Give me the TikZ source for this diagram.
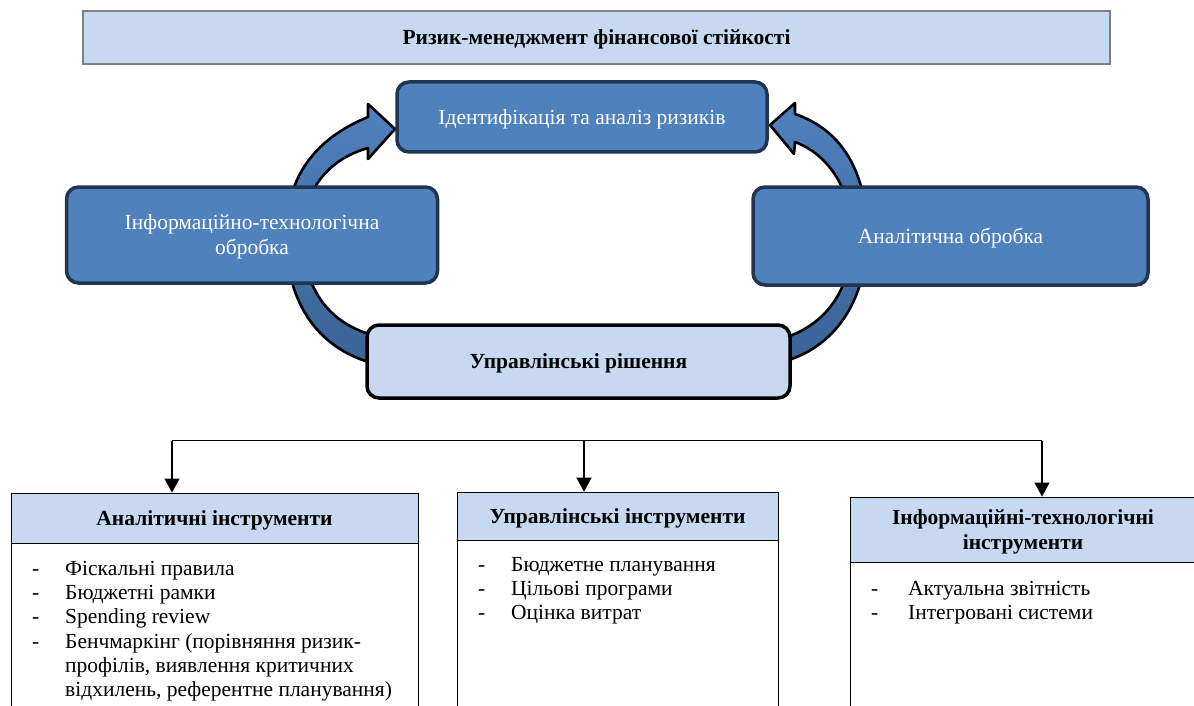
\documentclass[tikz,border=0pt]{standalone}
\usepackage{fontspec}
\setmainfont{Liberation Serif}
\usetikzlibrary{arrows.meta}

\definecolor{paleblue}{HTML}{C6D9F1}
\definecolor{midblue}{HTML}{4F81BD}
\definecolor{deepblue}{HTML}{3A6395}
\definecolor{navyline}{HTML}{1F3552}

\newcommand{\dashitem}{\makebox[33pt][l]{-}}

\begin{document}
\begin{tikzpicture}[x=1pt, y=-1pt,
         banner/.style={rectangle, draw=gray, line width=1.6pt, fill=paleblue, text depth=0pt,
            font=\fontsize{21.5}{25}\selectfont\bfseries},
         stage/.style={rectangle, rounded corners=12pt, draw=navyline, line width=3.5pt, text depth=0pt,
            fill=midblue, text=white, align=center, font=\fontsize{21.5}{25}\selectfont},
         decision/.style={rectangle, rounded corners=12pt, draw=black, line width=3.5pt, text depth=0pt,
            fill=paleblue, font=\fontsize{21.5}{25}\selectfont\bfseries},
         loop/.style={draw=black, line width=2.6pt, line join=round,
            top color=midblue, bottom color=deepblue},
         header/.style={rectangle, draw=black, line width=0.8pt, fill=paleblue, text depth=0pt,
            inner sep=0pt, align=center, font=\fontsize{21.5}{25}\selectfont\bfseries},
         body/.style={rectangle, draw=black, line width=0.8pt, fill=white, inner sep=0pt},
         items/.style={anchor=west, inner sep=0pt, align=left,
            font=\fontsize{21.5}{24.2}\selectfont},
         branch/.style={line width=1.2pt, -{Triangle[width=15pt,length=14pt]}}
      ]
         \useasboundingbox (0,0) rectangle (1194,706);
         \clip (0,0) rectangle (1194,706);

         % Curved arrows (behind the boxes)
         \path[loop] (380,365) .. controls (320,352) and (286,305) .. (286,235)
            .. controls (286,180) and (312,140) .. (368,117) -- (368,104) -- (395,129)
            -- (368,159) -- (368,148) .. controls (326,160) and (303,192) .. (303,235)
            .. controls (303,290) and (330,326) .. (380,337) -- cycle;
         \path[loop] (778,363) .. controls (835,350) and (867,300) .. (867,235)
            .. controls (867,172) and (842,130) .. (795,114) -- (795,103) -- (770,125)
            -- (794,154) -- (795,142) .. controls (830,155) and (852,192) .. (852,235)
            .. controls (852,288) and (828,326) .. (778,340) -- cycle;

         % Top nodes
         \node[banner, minimum width=1027, minimum height=53] (risk) at (596.5,37.5)
            {Ризик-менеджмент фінансової стійкості};
         \node[stage, minimum width=370, minimum height=70] (ident) at (582,117)
            {Ідентифікація та аналіз ризиків};
         \node[stage, minimum width=371, minimum height=96] (infoproc) at (252,235)
            {Інформаційно-технологічна\\обробка};
         \node[stage, minimum width=395, minimum height=98] (anproc) at (950.5,236)
            {Аналітична обробка};
         \node[decision, minimum width=423, minimum height=73] (decide) at (578.5,361.5)
            {Управлінські рішення};

         % Tool boxes
         \node[body, anchor=north, minimum width=407, minimum height=180] (bodyA) at (214.5,543) {};
         \node[header, minimum width=407, minimum height=50] (headA) at (214.5,518)
            {Аналітичні інструменти};
         \node[body, anchor=north, minimum width=321, minimum height=180] (bodyB) at (617.5,540) {};
         \node[header, minimum width=321, minimum height=48] (headB) at (617.5,516)
            {Управлінські інструменти};
         \node[body, anchor=north, minimum width=346, minimum height=160] (bodyC) at (1023,562) {};
         \node[header, minimum width=346, minimum height=65] (headC) at (1023,529.5)
            {Інформаційні-технологічні\\інструменти};

         % Lists
         \node[items, anchor=north west] (listA) at (32,561) {%
            \dashitem Фіскальні правила\\
            \dashitem Бюджетні рамки\\
            \dashitem Spending review\\
            \dashitem Бенчмаркінг (порівняння ризик-\\
            \hspace*{33pt}профілів, виявлення критичних\\
            \hspace*{33pt}відхилень, референтне планування)};
         \node[items, anchor=north west] (listB) at (478,557) {%
            \dashitem Бюджетне планування\\
            \dashitem Цільові програми\\
            \dashitem Оцінка витрат};
         \node[items, anchor=north west] (listC) at (871,581) {%
            \makebox[37pt][l]{-}Актуальна звітність\\
            \makebox[37pt][l]{-}Інтегровані системи};

         % Branching connectors
         \coordinate (forkA) at (172,440.5);
         \coordinate (forkB) at (584,440.5);
         \coordinate (forkC) at (1042,440.5);
         \draw[line width=1.2pt] (forkA) -- (forkC);
         \draw[branch] (forkA) -- (forkA |- headA.north);
         \draw[branch] (forkB) -- (forkB |- headB.north);
         \draw[branch] (forkC) -- (forkC |- headC.north);

      \end{tikzpicture}
\end{document}
